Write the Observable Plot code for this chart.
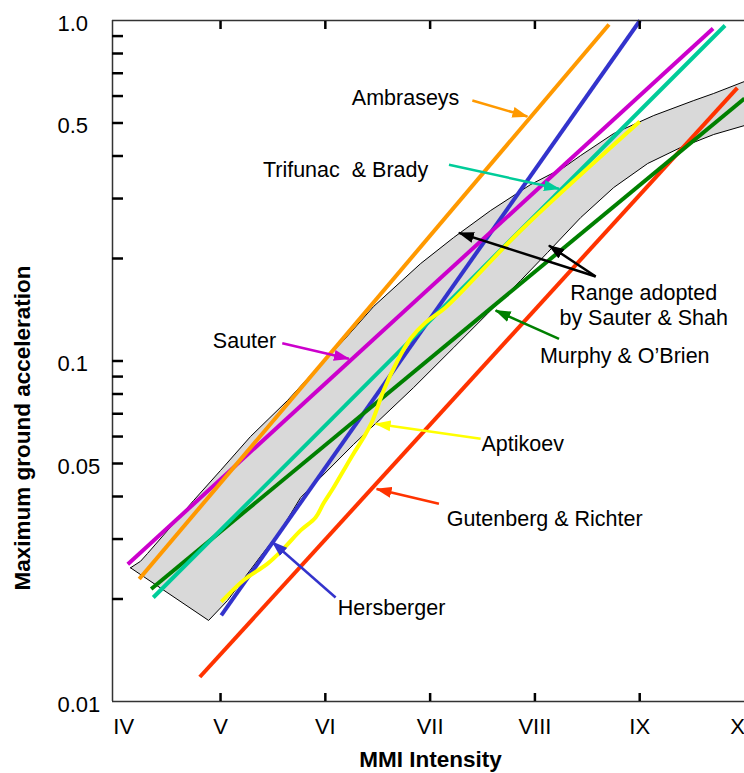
<!DOCTYPE html>
<html><head><meta charset="utf-8">
<script src="https://cdn.jsdelivr.net/npm/d3@7"></script>
<script src="https://cdn.jsdelivr.net/npm/@observablehq/plot@0.6"></script>
<style>html,body{margin:0;padding:0;background:#fff} svg{display:block}</style>
</head><body><div id="chart"></div>
<script>
// ---- axis data ----
const intensityValues = [4, 5, 6, 7, 8, 9, 10];
const intensityLabels = ["IV", "V", "VI", "VII", "VIII", "IX", "X"];
const yLabelValues = [0.01, 0.05, 0.1, 0.5, 1.0];
const yLabelTexts = ["0.01", "0.05", "0.1", "0.5", "1.0"];
const yTickValues = [0.02, 0.03, 0.04, 0.05, 0.06, 0.07, 0.08, 0.09, 0.1, 0.2, 0.3, 0.4, 0.5, 0.6, 0.7, 0.8, 0.9];
const xTickValues = [5, 6, 7, 8, 9];

// ---- range adopted by Sauter & Shah (polygon) ----
const rangeUpperMMI = [4.141, 4.236, 4.303, 4.742, 5.000, 5.286, 5.640, 5.926, 6.174, 6.461, 6.910, 7.225, 7.578, 7.960, 8.275, 8.437, 8.752, 9.134, 9.516, 9.706, 10.0];
const rangeUpperPGA = [0.0247, 0.0258, 0.0272, 0.0389, 0.0477, 0.0600, 0.0766, 0.0957, 0.1149, 0.1446, 0.1933, 0.2305, 0.2767, 0.3299, 0.3701, 0.4014, 0.4657, 0.5260, 0.5821, 0.6105, 0.6621];
const rangeLowerMMI = [10.0, 9.706, 9.391, 9.076, 8.752, 8.437, 8.122, 7.864, 7.549, 7.225, 6.843, 6.270, 5.764, 5.573, 5.382, 5.067, 4.886];
const rangeLowerPGA = [0.4915, 0.4626, 0.4236, 0.3802, 0.3232, 0.2638, 0.2084, 0.1724, 0.1378, 0.1095, 0.0836, 0.0569, 0.0397, 0.0318, 0.0267, 0.0198, 0.0173];

// ---- relations ----
const gutenbergMMI = [4.802, 9.932], gutenbergPGA = [0.0118, 0.634];
const hersbergerMMI = [5.007, 9.003], hersbergerPGA = [0.0179, 1.0];
const murphyMMI = [4.338, 10.0], murphyPGA = [0.0214, 0.590];
const trifunacMMI = [4.358, 9.814], trifunacPGA = [0.0202, 0.967];
const sauterMMI = [4.115, 9.70], sauterPGA = [0.0253, 0.947];
const ambraseysMMI = [4.224, 8.707], ambraseysPGA = [0.0229, 0.973];
const aptikoevMMI = [5.007, 5.220, 5.449, 5.601, 5.764, 5.907, 5.983, 6.079, 6.174, 6.270, 6.365, 6.451, 6.556, 6.690, 6.814, 6.957, 7.148, 7.864, 9.0];
const aptikoevPGA = [0.0196, 0.0227, 0.0254, 0.0281, 0.0318, 0.0347, 0.0382, 0.0425, 0.0477, 0.0535, 0.0596, 0.0669, 0.0819, 0.1003, 0.1164, 0.1297, 0.1436, 0.2416, 0.505];

const seriesNames = ["Gutenberg & Richter", "Hersberger", "Murphy & O’Brien", "Trifunac  & Brady", "Sauter", "Ambraseys", "Aptikoev"];
const seriesColors = ["#FF3300", "#3333CC", "#008000", "#00CC99", "#CC00CC", "#FF9900", "#FFFF00"];
const seriesMMI = [gutenbergMMI, hersbergerMMI, murphyMMI, trifunacMMI, sauterMMI, ambraseysMMI, aptikoevMMI];
const seriesPGA = [gutenbergPGA, hersbergerPGA, murphyPGA, trifunacPGA, sauterPGA, ambraseysPGA, aptikoevPGA];

// ---- annotations ----
const labelTexts = ["Ambraseys", "Trifunac\u00a0 & Brady", "Range adopted\nby Sauter & Shah", "Murphy & O’Brien", "Sauter", "Aptikoev", "Gutenberg & Richter", "Hersberger"];
const labelMMI = [6.766, 6.193, 9.038, 8.857, 5.229, 7.883, 8.093, 6.632];
const labelPGA = [0.598, 0.3675, 0.1465, 0.1038, 0.1149, 0.0576, 0.0347, 0.0190];

const arrowFromMMI = [7.403, 7.180, 8.580, 8.580, 8.230, 5.589, 7.482, 7.084, 6.098];
const arrowFromPGA = [0.5821, 0.3770, 0.1771, 0.1771, 0.1162, 0.1128, 0.0591, 0.0381, 0.0202];
const arrowToMMI = [7.928, 8.230, 7.275, 8.134, 7.625, 6.225, 6.480, 6.489, 5.494];
const arrowToPGA = [0.5224, 0.3204, 0.2379, 0.2184, 0.1407, 0.1015, 0.0654, 0.0421, 0.0294];
const arrowColors = ["#FF9900", "#00CC99", "#000000", "#000000", "#008000", "#CC00CC", "#FFFF00", "#FF3300", "#3333CC"];

// ---- build tables ----
const rangeRing = [];
rangeUpperMMI.forEach((m, i) => rangeRing.push({mmi: m, pga: rangeUpperPGA[i]}));
rangeLowerMMI.forEach((m, i) => rangeRing.push({mmi: m, pga: rangeLowerPGA[i]}));
rangeRing.push({mmi: rangeUpperMMI[0], pga: rangeUpperPGA[0]});

const arrows = arrowFromMMI.map((m, i) => ({x1: m, y1: arrowFromPGA[i], x2: arrowToMMI[i], y2: arrowToPGA[i], color: arrowColors[i]}));
const labels = labelTexts.map((t, i) => ({text: t, mmi: labelMMI[i], pga: labelPGA[i]}));

function headMarker(color) {
  const ns = "http://www.w3.org/2000/svg";
  const m = document.createElementNS(ns, "marker");
  m.setAttribute("viewBox", "-15 -6 16 12");
  m.setAttribute("refX", "0");
  m.setAttribute("refY", "0");
  m.setAttribute("markerUnits", "userSpaceOnUse");
  m.setAttribute("markerWidth", "16");
  m.setAttribute("markerHeight", "12");
  m.setAttribute("orient", "auto");
  m.setAttribute("fill", color);
  m.setAttribute("stroke", "none");
  const p = document.createElementNS(ns, "path");
  p.setAttribute("d", "M-15,-5.5L1,0L-15,5.5Z");
  m.appendChild(p);
  return m;
}

const FONT = "'Liberation Sans', Arial, Helvetica, sans-serif";

const lineMarks = seriesMMI.map((xs, k) => Plot.line(xs.map((m, i) => ({mmi: m, pga: seriesPGA[k][i]})), {
  x: "mmi", y: "pga", stroke: seriesColors[k], strokeWidth: 4, strokeLinecap: "butt",
  curve: k === 6 ? "catmull-rom" : "linear"
}));

const chart = Plot.plot({
  width: 744,
  height: 773,
  marginLeft: 112,
  marginRight: 0,
  marginTop: 20,
  marginBottom: 72,
  style: {fontFamily: FONT, fontSize: "22px", color: "#000", background: "#fff", overflow: "visible"},
  x: {domain: [3.969, 10.0], axis: null},
  y: {type: "log", domain: [0.01, 1.0], axis: null},
  color: {type: "identity"},
  marks: [
    // range polygon
    Plot.line(rangeRing, {x: "mmi", y: "pga", fill: "#D9D9D9", stroke: "#000", strokeWidth: 1, curve: "linear"}),
    ...lineMarks,
    // arrows
    Plot.link(arrows, {x1: "x1", y1: "y1", x2: "x2", y2: "y2", stroke: "color", strokeWidth: 2.5, markerEnd: headMarker}),
    // annotation labels
    Plot.text(labels, {x: "mmi", y: "pga", text: "text", fontSize: 21.5, fill: "#000", lineHeight: 1.16}),
    // frame lines
    Plot.ruleY([1.0], {stroke: "#333", strokeWidth: 1.5}),
    Plot.ruleY([0.01], {stroke: "#333", strokeWidth: 1.5}),
    Plot.ruleX([3.969], {stroke: "#333", strokeWidth: 1.5}),
    // ticks (inward)
    Plot.axisY({ticks: yTickValues, tickSize: -11, strokeWidth: 2.5, stroke: "#000", text: null, tickFormat: null}),
    Plot.axisY({ticks: yLabelValues, tickSize: 0, tickFormat: (d) => yLabelTexts[yLabelValues.indexOf(d)], textAnchor: "start", dx: -46, dy: 3, fontSize: 22}),
    Plot.axisX({ticks: xTickValues, tickSize: -8, strokeWidth: 2.5, stroke: "#000", text: null}),
    Plot.axisX({anchor: "top", ticks: xTickValues, tickSize: -8, strokeWidth: 2.5, stroke: "#000", text: null}),
    Plot.axisX({ticks: intensityValues.slice(1, 6), tickSize: 0, tickPadding: 17, tickFormat: (d) => intensityLabels[intensityValues.indexOf(d)], fontSize: 22}),
    Plot.axisX({ticks: [intensityValues[0]], tickSize: 0, tickPadding: 17, dx: 8, tickFormat: (d) => intensityLabels[0], fontSize: 22}),
    Plot.axisX({ticks: [intensityValues[6]], tickSize: 0, tickPadding: 17, dx: -7, tickFormat: (d) => intensityLabels[6], fontSize: 22}),
    // axis titles
    Plot.text(["Maximum ground acceleration"], {frameAnchor: "left", text: (d) => d, textAnchor: "middle", lineAnchor: "middle", rotate: -90, dx: -89.5, dy: 67, fontWeight: "bold", fontSize: 22.5, fill: "#000"}),
    Plot.text(["MMI Intensity"], {frameAnchor: "bottom", text: (d) => d, textAnchor: "middle", lineAnchor: "middle", dx: 2, dy: 58, fontWeight: "bold", fontSize: 22.5, fill: "#000"})
  ]
});
document.getElementById("chart").appendChild(chart);
</script>
</body></html>
